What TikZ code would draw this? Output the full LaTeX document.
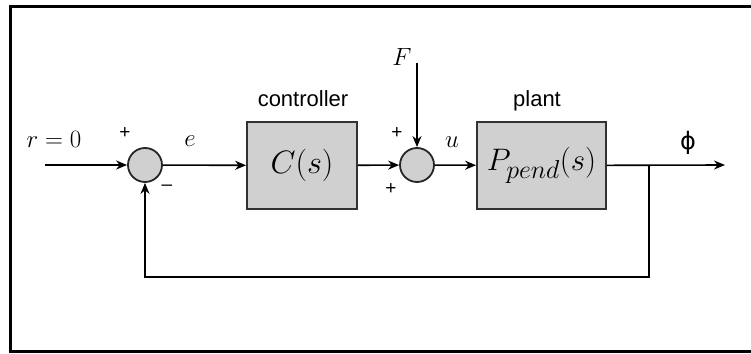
\documentclass[tikz,border=0pt]{standalone}
\usepackage{amsmath}
\usepackage{graphicx}
\usepackage{fontspec}
\newfontfamily\labelfont{Liberation Sans}
\newfontfamily\greekfont{DejaVu Sans}
\usepackage{tikz}
\usetikzlibrary{arrows.meta, positioning, calc}
\definecolor{boxgray}{RGB}{208,208,208}
\definecolor{edgegray}{RGB}{50,50,50}

\begin{document}
\begin{tikzpicture}[x=1pt, y=1pt,
    block/.style={draw=edgegray, fill=boxgray, line width=1.8pt, inner sep=0pt},
    sumnode/.style={circle, draw=black!85, fill=boxgray, line width=1.8pt, minimum size=34pt, inner sep=0pt},
    sig/.style={line width=1.6pt, -{Stealth[length=11pt, width=9pt]}},
    sign/.style={font=\labelfont\fontsize{19}{22}\selectfont, inner sep=0pt},
    caption/.style={font=\labelfont\fontsize{22}{26}\selectfont, inner sep=0pt},
    symb/.style={font=\Huge, inner sep=0pt}]
  \useasboundingbox (0,0) rectangle (751,353);

  % outer frame (open on the right)
  \draw[line width=3pt] (751,346) -- (10.5,346) -- (10.5,2) -- (751,2);

  % blocks and summing points
  \node[sumnode] (sumA) at (145,188) {};
  \node[block, minimum width=110pt, minimum height=87pt] (ctrl) at (302,187.5)
    {\Huge\scalebox{1.3}{$C(s)$}};
  \node[sumnode] (sumB) at (417,188) {};
  \node[block, minimum width=129pt, minimum height=87pt] (plant) at (541.5,187.5)
    {\Huge\scalebox{1.25}{$P_{pend}(s)$}};

  \coordinate (in) at (45,188);
  \coordinate (ftop) at (417,290);
  \coordinate (branch) at (649,188);
  \coordinate (out) at (725,188);
  \coordinate (fb) at (649,76);

  % signals
  \draw[sig] (in) -- (sumA);
  \draw[sig] (sumA) -- (ctrl);
  \draw[sig] (ctrl) -- (sumB);
  \draw[sig] (ftop) -- (sumB);
  \draw[sig] (sumB) -- (plant);
  \draw[sig] (plant) -- (out);
  \draw[sig] (branch) -- (fb) -| (sumA.south);

  % labels
  \node[symb] (rlab) at (54,214) {$r=0$};
  \node[symb] (elab) at (190,212) {$e$};
  \node[sign] (pA) at (125,220) {+};
  \node[sign] (mA) at (167,165) {–};
  \node[caption] (ctrllab) at (303,254) {controller};
  \node[symb] (flab) at (402,296) {$F$};
  \node[sign] (pB) at (397,220) {+};
  \node[sign] (pC) at (391,164) {+};
  \node[symb] (ulab) at (452,211) {$u$};
  \node[caption] (plantlab) at (537,252) {plant};
  \node[font=\greekfont\fontsize{24}{28}\selectfont, inner sep=0pt] (philab) at (688,210) {ϕ};
\end{tikzpicture}
\end{document}
